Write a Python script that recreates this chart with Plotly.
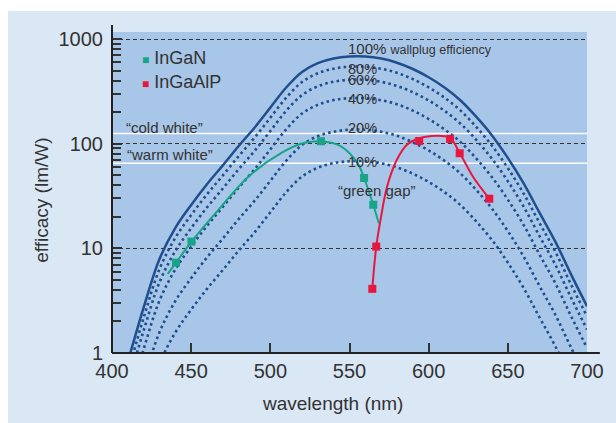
import plotly.graph_objects as go

# ---------------- data ----------------
wavelength = [400, 410, 420, 430, 440, 450, 460, 470, 480, 490, 500, 510, 520, 530,
              540, 550, 560, 570, 580, 590, 600, 610, 620, 630, 640, 650, 660, 670,
              680, 690, 700]

eff_100 = [0.27, 0.83, 2.73, 7.92, 15.7, 26.0, 41.0, 62.1, 95.0, 142, 221, 344, 485, 589,
           652, 680, 680, 650, 594, 517, 431, 344, 260, 181, 120, 73.1, 41.7, 21.9,
           11.6, 5.61, 2.80]
eff_80 = [0.22, 0.66, 2.18, 6.34, 12.6, 20.8, 32.8, 49.7, 76.0, 114, 177, 275, 388, 471,
          521, 544, 544, 520, 475, 414, 345, 275, 208, 145, 95.6, 58.5, 33.3, 17.5,
          9.29, 4.49, 2.24]
eff_60 = [0.16, 0.50, 1.64, 4.75, 9.43, 15.6, 24.6, 37.3, 57.0, 85.2, 132, 206, 291, 353,
          391, 408, 408, 390, 356, 310, 259, 206, 156, 109, 71.7, 43.8, 25.0, 13.1,
          6.97, 3.36, 1.68]
eff_40 = [0.11, 0.33, 1.09, 3.17, 6.29, 10.4, 16.4, 24.9, 38.0, 56.8, 88.2, 137, 194, 235,
          261, 272, 272, 260, 238, 207, 172, 137, 104, 72.4, 47.8, 29.2, 16.7, 8.74,
          4.64, 2.24, 1.12]
eff_20 = [0.05, 0.17, 0.55, 1.58, 3.14, 5.19, 8.20, 12.4, 19.0, 28.4, 44.1, 68.7, 97.0, 118,
          130, 136, 136, 130, 119, 103, 86.2, 68.7, 52.0, 36.2, 23.9, 14.6, 8.33, 4.37,
          2.32, 1.12, 0.56]
eff_10 = [0.03, 0.08, 0.27, 0.79, 1.57, 2.60, 4.10, 6.21, 9.50, 14.2, 22.1, 34.4, 48.5, 58.9,
          65.2, 68.0, 68.0, 65.0, 59.4, 51.7, 43.1, 34.4, 26.0, 18.1, 12.0, 7.31, 4.17,
          2.19, 1.16, 0.56, 0.28]

efficiency_curves = [
    ("100%", eff_100, "solid"),
    ("80%", eff_80, "dot"),
    ("60%", eff_60, "dot"),
    ("40%", eff_40, "dot"),
    ("20%", eff_20, "dot"),
    ("10%", eff_10, "dot"),
]

# InGaN fitted curve and measured points
ingan_curve_x = [435.2, 440.4, 450.2, 465.4, 486.3, 507.0, 521.7, 532.0, 544.6, 555.0, 559.2, 565.0, 568.5]
ingan_curve_y = [5.7, 7.3, 11.6, 21.7, 48.6, 81.7, 101.9, 105.4, 94.4, 65.5, 47.0, 26.1, 17.4]
ingan_pts_x = [440.4, 450.2, 532.0, 559.2, 565.0]
ingan_pts_y = [7.3, 11.6, 105.4, 47.0, 26.1]

# InGaAlP fitted curve and measured points
ingaalp_curve_x = [564.4, 566.9, 569.6, 573.75, 580.0, 586.25, 593.5, 600.8, 613.3, 619.6, 627.9, 638.3]
ingaalp_curve_y = [4.1, 10.4, 18.7, 38.9, 70.5, 97.7, 112, 118, 113.5, 81.3, 48.6, 29.8]
ingaalp_pts_x = [564.4, 566.9, 594.0, 613.5, 619.6, 638.3]
ingaalp_pts_y = [4.1, 10.4, 106, 111, 81, 29.8]

cold_white = 125
warm_white = 65

x_ticks = [400, 450, 500, 550, 600, 650, 700]
y_ticks = [1, 10, 100, 1000]
y_tick_labels = ["1", "10", "100", "1000"]

# ---------------- styling ----------------
CURVE = "#1f4f8e"
TEAL = "#18a487"
RED = "#e8173f"
TXT = "#333333"
FONT = "Liberation Sans, Arial, sans-serif"

fig = go.Figure()

for name, vals, dash in efficiency_curves:
    fig.add_trace(go.Scatter(
        x=wavelength, y=vals, mode="lines", name=name, showlegend=False,
        line=dict(color=CURVE, width=2.5 if dash == "solid" else 2.6,
                  dash=dash if dash == "solid" else "2.6px,3.2px",
                  shape="spline", smoothing=1.0),
        hoverinfo="skip"))

fig.add_trace(go.Scatter(x=ingan_curve_x, y=ingan_curve_y, mode="lines", showlegend=False,
                         line=dict(color=TEAL, width=2, shape="spline", smoothing=1.0)))
fig.add_trace(go.Scatter(x=ingan_pts_x, y=ingan_pts_y, mode="markers", name="InGaN",
                         showlegend=False,
                         marker=dict(symbol="square", size=8, color=TEAL)))
fig.add_trace(go.Scatter(x=ingaalp_curve_x, y=ingaalp_curve_y, mode="lines", showlegend=False,
                         line=dict(color=RED, width=2, shape="spline", smoothing=1.0)))
fig.add_trace(go.Scatter(x=ingaalp_pts_x, y=ingaalp_pts_y, mode="markers", name="InGaAlP",
                         showlegend=False,
                         marker=dict(symbol="square", size=8, color=RED)))

# plot-area geometry (pixels) used for paper-space decorations
L, R, T, B = 112, 24, 32, 70
W, H = 616, 423
PW, PH = W - L - R, H - T - B

def px2paper_x(px):
    return (px - L) / PW

def py2paper_y(py):
    return (H - B - py) / PH

shapes = [
    # white outer border strips
    dict(type="rect", xref="paper", yref="paper", x0=-1, x1=2, y0=py2paper_y(11), y1=2,
         fillcolor="white", line=dict(width=0), layer="below"),
    dict(type="rect", xref="paper", yref="paper", x0=-1, x1=px2paper_x(7), y0=-1, y1=2,
         fillcolor="white", line=dict(width=0), layer="below"),
    # cold / warm white reference lines
    dict(type="line", xref="x domain", yref="y", x0=0, x1=1,
         y0=cold_white, y1=cold_white,
         line=dict(color="white", width=1.5), layer="below"),
    dict(type="line", xref="x domain", yref="y", x0=0, x1=1,
         y0=warm_white, y1=warm_white,
         line=dict(color="white", width=1.5), layer="below"),
    # axis lines (extend slightly beyond the plot area as in the reference)
    dict(type="line", xref="paper", yref="paper", x0=0, x1=0, y0=0, y1=py2paper_y(25),
         line=dict(color="#222222", width=2)),
    dict(type="line", xref="paper", yref="paper", x0=0, x1=px2paper_x(605), y0=0, y1=0,
         line=dict(color="#222222", width=2)),
]

ann = []
def label(x, ylog, text, size=15, xanchor="left"):
    ann.append(dict(x=x, y=ylog, xref="x", yref="y", text=text, showarrow=False,
                    xanchor=xanchor, yanchor="middle",
                    font=dict(family=FONT, size=size, color=TXT)))

label(547.5, 2.905, "100% <span style='font-size:12.5px'>wallplug efficiency</span>")
label(547.5, 2.714, "80%", size=14.5)
label(547.5, 2.605, "60%", size=14.5)
label(547.5, 2.427, "40%", size=14.5)
label(547.5, 2.150, "20%", size=14.5)
label(547.5, 1.825, "10%", size=14.5)
label(541.5, 1.557, "“green gap”")
label(407.5, 2.159, "“cold white”")
label(408.5, 1.901, "“warm white”")

# legend drawn as text entries
ann.append(dict(x=px2paper_x(140), y=py2paper_y(58), xref="paper", yref="paper",
                text=f"<span style='color:{TEAL};font-size:12px'>■</span> InGaN",
                showarrow=False, xanchor="left", yanchor="middle",
                font=dict(family=FONT, size=18, color=TXT)))
ann.append(dict(x=px2paper_x(140), y=py2paper_y(82), xref="paper", yref="paper",
                text=f"<span style='color:{RED};font-size:12px'>■</span> InGaAlP",
                showarrow=False, xanchor="left", yanchor="middle",
                font=dict(family=FONT, size=18, color=TXT)))

# axis titles
ann.append(dict(x=px2paper_x(335), y=py2paper_y(404), xref="paper", yref="paper",
                text="wavelength (nm)", showarrow=False, xanchor="center", yanchor="middle",
                font=dict(family=FONT, size=19, color=TXT)))
ann.append(dict(x=px2paper_x(40), y=py2paper_y(200), xref="paper", yref="paper",
                text="efficacy (lm/W)", showarrow=False, xanchor="center", yanchor="middle",
                textangle=-90, font=dict(family=FONT, size=19, color=TXT)))

fig.update_layout(
    width=W, height=H,
    margin=dict(l=L, r=R, t=T, b=B, pad=0),
    paper_bgcolor="#dae7f5",
    plot_bgcolor="#a8c6e8",
    font=dict(family=FONT, color=TXT),
    showlegend=False,
    shapes=shapes,
    annotations=ann,
    xaxis=dict(range=[400, 700], tickvals=x_ticks, ticks="inside", ticklen=10,
               tickwidth=1.5, tickcolor="#333333", showgrid=False, zeroline=False,
               showline=False, tickfont=dict(family=FONT, size=20, color=TXT),
               ticklabelstandoff=4),
    yaxis=dict(type="log", range=[0, 3.067], tickvals=y_ticks, ticktext=y_tick_labels,
               ticks="inside", ticklen=10, tickwidth=1.5, tickcolor="#333333",
               showgrid=True, gridcolor="#333333", gridwidth=1, griddash="4px,3px",
               zeroline=False, showline=False,
               tickfont=dict(family=FONT, size=20, color=TXT), ticklabelstandoff=8,
               minor=dict(ticks="inside", ticklen=9, tickwidth=1.5, tickcolor="#333333",
                          dtick="D1", showgrid=False)),
)

fig.write_html("out.html")
